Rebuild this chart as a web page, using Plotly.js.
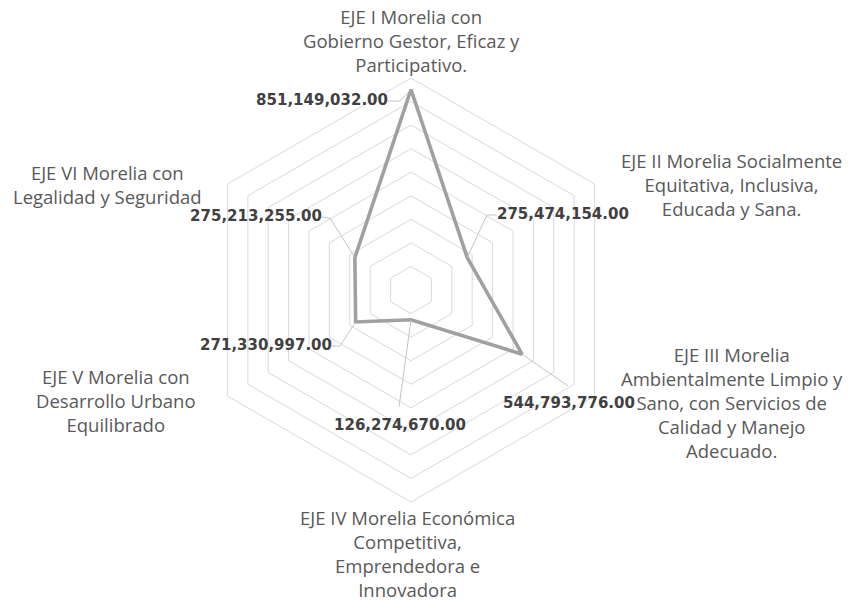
<!DOCTYPE html>
<html>
<head>
<meta charset="utf-8">
<script src="https://cdn.plot.ly/plotly-3.0.1.min.js"></script>
<style>
  html, body { margin: 0; padding: 0; background: #ffffff; }
  #chart { width: 848px; height: 602px; }
</style>
</head>
<body>
<div id="chart"></div>
<script>
// ---- data ----
const categories = ['EJE I', 'EJE II', 'EJE III', 'EJE IV', 'EJE V', 'EJE VI'];
const categoryLabels = [
  'EJE I Morelia con<br>Gobierno Gestor, Eficaz y<br>Participativo.',
  'EJE II Morelia Socialmente<br>Equitativa, Inclusiva,<br>Educada y Sana.',
  'EJE III Morelia<br>Ambientalmente Limpio y<br>Sano, con Servicios de<br>Calidad y Manejo<br>Adecuado.',
  'EJE IV Morelia Económica<br>Competitiva,<br>Emprendedora e<br>Innovadora',
  'EJE V Morelia con<br>Desarrollo Urbano<br>Equilibrado',
  'EJE VI Morelia con<br>Legalidad y Seguridad'
];
const values = [851149032.00, 275474154.00, 544793776.00, 126274670.00, 271330997.00, 275213255.00];
const radialMax = 900000000;
const radialStep = 100000000;

// ---- layout helpers (positions, not data) ----
// leader line bend points for each data label, as [r, theta in degrees]
const leaderPaths = [
  [[803.7e6, 356.67], [808.3e6, 353.06]],
  [[453.3e6, 45.38], [484.4e6, 48.90]],
  [[781.2e6, 121.45]],
  [[499.3e6, 185.86]],
  [[383.9e6, 231.74], [411.1e6, 234.67]],
  [[460.1e6, 311.63], [488.7e6, 309.36]]
];
// anchor of each data label text, as [r, theta in degrees]
const labelAnchors = [
  [808.3e6, 353.06],
  [484.4e6, 48.90],
  [810.0e6, 124.11],
  [549.6e6, 184.87],
  [411.1e6, 234.67],
  [488.7e6, 309.36]
];
const labelTextPos = ['middle left', 'middle right', 'bottom center', 'bottom center', 'middle left', 'middle left'];
const catLabelXY = [
  [0.4858, 0.9327], [0.8632, 0.6935], [0.8632, 0.3314],
  [0.4811, 0.0806], [0.1368, 0.3355], [0.1268, 0.6935]
];

const stepDeg = 360 / categories.length;
const fmt = v => v.toLocaleString('en-US', {minimumFractionDigits: 2, maximumFractionDigits: 2});

// main series
const mainTrace = {
  type: 'scatterpolar',
  subplot: 'polar',
  r: values.concat([values[0]]),
  theta: categories.concat([categories[0]]),
  mode: 'lines',
  line: {color: '#a0a0a0', width: 3.6},
  hoverinfo: 'skip',
  showlegend: false
};

// leader lines
const lr = [], lt = [];
values.forEach((v, i) => {
  lr.push(v); lt.push(i * stepDeg);
  leaderPaths[i].forEach(p => { lr.push(p[0]); lt.push(p[1]); });
  lr.push(null); lt.push(null);
});
const leaderTrace = {
  type: 'scatterpolar',
  subplot: 'polar2',
  r: lr, theta: lt,
  mode: 'lines',
  connectgaps: false,
  line: {color: '#c4c4c4', width: 1},
  hoverinfo: 'skip',
  showlegend: false,
  cliponaxis: false
};

// data labels
const labelTrace = {
  type: 'scatterpolar',
  subplot: 'polar2',
  r: labelAnchors.map(a => a[0]),
  theta: labelAnchors.map(a => a[1]),
  mode: 'text',
  text: values.map(fmt),
  textposition: labelTextPos,
  textfont: {family: 'DejaVu Sans', size: 15, color: '#404040', weight: 'bold'},
  hoverinfo: 'skip',
  showlegend: false,
  cliponaxis: false
};

const dom = {x: [199 / 848, 623 / 848], y: [100 / 602, 524 / 602]};

const layout = {
  width: 848, height: 602,
  margin: {l: 0, r: 0, t: 0, b: 0},
  paper_bgcolor: '#ffffff',
  showlegend: false,
  polar: {
    domain: dom,
    gridshape: 'linear',
    bgcolor: 'rgba(0,0,0,0)',
    radialaxis: {
      range: [0, radialMax], dtick: radialStep, tick0: 0,
      showticklabels: false, ticks: '', showline: false,
      gridcolor: '#d9d9d9', gridwidth: 1
    },
    angularaxis: {
      direction: 'clockwise', rotation: 90,
      showgrid: false, showticklabels: false, ticks: '',
      showline: true, linecolor: '#d9d9d9', linewidth: 1
    }
  },
  polar2: {
    domain: dom,
    bgcolor: 'rgba(0,0,0,0)',
    radialaxis: {range: [0, radialMax], visible: false, showgrid: false},
    angularaxis: {
      type: 'linear', thetaunit: 'degrees',
      direction: 'clockwise', rotation: 90,
      visible: false, showgrid: false
    }
  },
  annotations: categoryLabels.map((t, i) => ({
    text: t,
    xref: 'paper', yref: 'paper',
    x: catLabelXY[i][0], y: catLabelXY[i][1],
    xanchor: 'center', yanchor: 'middle',
    align: 'center',
    showarrow: false,
    font: {family: 'Open Sans', size: 18.5, color: '#595959'}
  }))
};

Plotly.newPlot('chart', [mainTrace, leaderTrace, labelTrace], layout, {displayModeBar: false, staticPlot: true});
</script>
</body>
</html>
